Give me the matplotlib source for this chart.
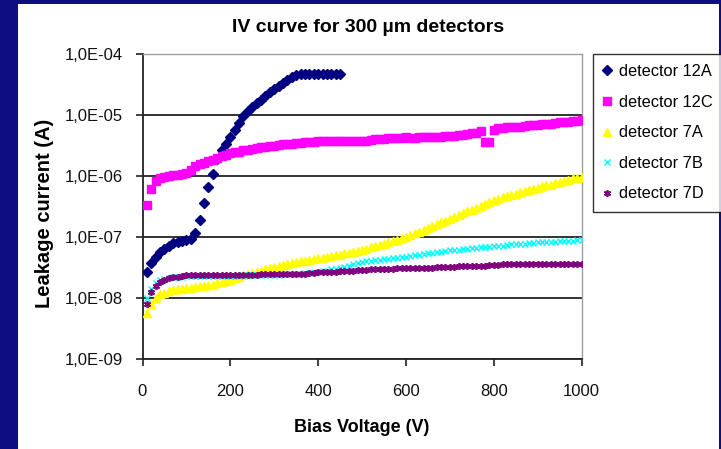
import matplotlib
matplotlib.use("Agg")
import matplotlib.pyplot as plt
from matplotlib.ticker import FixedLocator, FuncFormatter, NullLocator
from matplotlib.patches import Rectangle
import numpy as np

REG = 'Liberation Sans'

# ---------------- data (log10 of current in A) ----------------
V_12A = list(range(10, 460, 10))
log_12A = [-7.58, -7.42, -7.32, -7.25, -7.19, -7.14, -7.10, -7.08, -7.06, -7.05,
           -7.03, -6.94, -6.72, -6.45, -6.18, -5.97, -5.72, -5.58, -5.48, -5.36,
           -5.24, -5.13, -5.02, -4.93, -4.87, -4.81, -4.75, -4.69, -4.63, -4.57,
           -4.52, -4.47, -4.42, -4.38, -4.35, -4.33, -4.33, -4.33, -4.33, -4.33,
           -4.33, -4.33, -4.33, -4.33, -4.33]

V_all = list(range(10, 1010, 10))
log_12C = [-6.48, -6.21, -6.09, -6.04, -6.01, -6.00, -5.99, -5.98, -5.97, -5.95,
           -5.90, -5.84, -5.80, -5.78, -5.76, -5.73, -5.71, -5.68, -5.65, -5.63,
           -5.61, -5.60, -5.58, -5.57, -5.56, -5.54, -5.53, -5.52, -5.51, -5.50,
           -5.49, -5.48, -5.48, -5.47, -5.46, -5.46, -5.45, -5.44, -5.44, -5.43,
           -5.43, -5.42, -5.42, -5.42, -5.43, -5.43, -5.42, -5.42, -5.43, -5.42,
           -5.42, -5.41, -5.40, -5.39, -5.39, -5.38, -5.38, -5.37, -5.37, -5.36,
           -5.37, -5.37, -5.36, -5.36, -5.36, -5.36, -5.36, -5.36, -5.35, -5.34,
           -5.34, -5.33, -5.32, -5.31, -5.30, -5.29, -5.27, -5.44, -5.44, -5.25,
           -5.22, -5.21, -5.20, -5.20, -5.19, -5.19, -5.18, -5.17, -5.16, -5.16,
           -5.15, -5.14, -5.14, -5.13, -5.12, -5.12, -5.11, -5.10, -5.10, -5.09]
log_7A = [-8.25, -8.10, -8.00, -7.94, -7.91, -7.89, -7.87, -7.86, -7.85, -7.84,
          -7.83, -7.82, -7.81, -7.80, -7.79, -7.78, -7.76, -7.74, -7.72, -7.70,
          -7.68, -7.65, -7.63, -7.61, -7.59, -7.57, -7.55, -7.53, -7.51, -7.49,
          -7.47, -7.46, -7.44, -7.43, -7.41, -7.40, -7.39, -7.37, -7.36, -7.35,
          -7.34, -7.33, -7.31, -7.30, -7.29, -7.27, -7.26, -7.24, -7.23, -7.21,
          -7.19, -7.17, -7.15, -7.13, -7.11, -7.09, -7.07, -7.05, -7.02, -7.00,
          -6.97, -6.94, -6.91, -6.88, -6.85, -6.82, -6.79, -6.76, -6.73, -6.70,
          -6.67, -6.64, -6.61, -6.58, -6.55, -6.52, -6.49, -6.46, -6.43, -6.40,
          -6.38, -6.35, -6.33, -6.31, -6.29, -6.27, -6.25, -6.23, -6.21, -6.19,
          -6.17, -6.15, -6.14, -6.12, -6.10, -6.08, -6.06, -6.04, -6.03, -6.01]
log_7B = [-8.00, -7.85, -7.76, -7.71, -7.69, -7.67, -7.66, -7.65, -7.65, -7.64,
          -7.64, -7.64, -7.64, -7.64, -7.64, -7.64, -7.64, -7.64, -7.64, -7.64,
          -7.64, -7.64, -7.63, -7.63, -7.63, -7.63, -7.63, -7.62, -7.62, -7.62,
          -7.62, -7.61, -7.61, -7.61, -7.60, -7.60, -7.59, -7.59, -7.58, -7.57,
          -7.56, -7.55, -7.53, -7.52, -7.51, -7.49, -7.47, -7.45, -7.43, -7.41,
          -7.40, -7.39, -7.38, -7.37, -7.36, -7.36, -7.35, -7.34, -7.33, -7.32,
          -7.31, -7.30, -7.29, -7.28, -7.27, -7.26, -7.25, -7.24, -7.23, -7.22,
          -7.21, -7.21, -7.20, -7.19, -7.18, -7.18, -7.17, -7.16, -7.16, -7.15,
          -7.14, -7.14, -7.13, -7.12, -7.12, -7.11, -7.11, -7.10, -7.10, -7.09,
          -7.09, -7.08, -7.08, -7.08, -7.07, -7.07, -7.06, -7.06, -7.05, -7.05]
log_7D = [-8.10, -7.90, -7.80, -7.74, -7.70, -7.67, -7.66, -7.65, -7.64, -7.63,
          -7.63, -7.62, -7.62, -7.62, -7.62, -7.62, -7.62, -7.62, -7.62, -7.62,
          -7.62, -7.62, -7.62, -7.62, -7.62, -7.62, -7.61, -7.61, -7.61, -7.61,
          -7.61, -7.61, -7.61, -7.60, -7.60, -7.60, -7.60, -7.59, -7.59, -7.58,
          -7.58, -7.57, -7.57, -7.57, -7.56, -7.56, -7.55, -7.55, -7.54, -7.54,
          -7.54, -7.53, -7.53, -7.53, -7.52, -7.52, -7.52, -7.51, -7.51, -7.51,
          -7.51, -7.50, -7.50, -7.50, -7.50, -7.50, -7.49, -7.49, -7.49, -7.49,
          -7.49, -7.48, -7.48, -7.48, -7.48, -7.48, -7.47, -7.47, -7.46, -7.46,
          -7.46, -7.45, -7.45, -7.45, -7.45, -7.45, -7.44, -7.44, -7.44, -7.44,
          -7.44, -7.44, -7.44, -7.44, -7.44, -7.44, -7.44, -7.44, -7.44, -7.44]

labels = ["detector 12A", "detector 12C", "detector 7A", "detector 7B", "detector 7D"]
x_ticks = [0, 200, 400, 600, 800, 1000]
y_exps = [-9, -8, -7, -6, -5, -4]
title = "IV curve for 300 \u00b5m detectors"
xlabel = "Bias Voltage (V)"
ylabel = "Leakage current (A)"

# ---------------- figure ----------------
W, H = 721, 449
fig = plt.figure(figsize=(W / 100, H / 100), dpi=100)
fig.patch.set_facecolor('#0e0e80')
fig.add_artist(Rectangle((18 / W, 0), (719 - 18) / W, 1 - 4 / H,
                         transform=fig.transFigure, facecolor='white',
                         edgecolor='none', zorder=0))

x0, x1 = 142.5, 581.6
y0, y1 = 54, 359
ax = fig.add_axes([x0 / W, 1 - y1 / H, (x1 - x0) / W, (y1 - y0) / H])
ax.set_facecolor('white')
ax.set_yscale('log')
ax.set_xlim(0, 1000)
ax.set_ylim(1e-9, 1e-4)

def cur(vals):
    return [10.0 ** v for v in vals]

series = [
    (V_12A, log_12A, dict(marker='D', color='#000080', ms=5.0, mec='#000080')),
    (V_all, log_12C, dict(marker='s', color='#FF00FF', ms=5.5, mec='#FF00FF')),
    (V_all, log_7A, dict(marker='^', color='#FFFF00', ms=6.2, mec='#FFFF00')),
    (V_all, log_7B, dict(marker='x', color='#00FFFF', ms=4.2, mew=1.0)),
    (V_all, log_7D, dict(marker=(6, 2, 0), color='#800080', ms=5.0, mew=1.2)),
]
handles = []
for i, ((vx, vy, st), lab) in enumerate(zip(series, labels)):
    h, = ax.plot(vx, cur(vy), linestyle='none', label=lab, zorder=3 + i, **st)
    handles.append(h)

ax.yaxis.set_major_locator(FixedLocator([10.0 ** e for e in y_exps]))
ax.yaxis.set_minor_locator(NullLocator())
ax.yaxis.set_major_formatter(FuncFormatter(
    lambda v, p: "1,0E%+03d" % int(round(np.log10(v)))))
ax.xaxis.set_major_locator(FixedLocator(x_ticks))
ax.xaxis.set_minor_locator(NullLocator())

ax.grid(axis='y', color='#222222', linewidth=1.3)
ax.grid(axis='x', visible=False)
ax.set_axisbelow(True)
for s in ['left', 'bottom']:
    ax.spines[s].set_color('#222222')
    ax.spines[s].set_linewidth(1.3)
for s in ['top', 'right']:
    ax.spines[s].set_color('#a0a0a0')
    ax.spines[s].set_linewidth(1.0)

ax.tick_params(axis='both', direction='out', length=5, width=1.2, color='#222222')
ax.tick_params(axis='y', pad=9)
ax.tick_params(axis='x', pad=13)
for t in ax.get_yticklabels() + ax.get_xticklabels():
    t.set_fontfamily(REG)
    t.set_fontsize(12)
    t.set_color('#111111')

fig.text(368 / W, 1 - 27 / H, title, ha='center', va='center',
         fontfamily=REG, fontweight='bold', fontsize=14)
fig.text(362 / W, 1 - 427 / H, xlabel, ha='center', va='center',
         fontfamily=REG, fontweight='bold', fontsize=13)
fig.text(45 / W, 1 - 213 / H, ylabel, ha='center', va='center', rotation=90,
         fontfamily=REG, fontweight='bold', fontsize=14.5)

leg = fig.legend(handles=handles, labels=labels, loc='upper left',
                 bbox_to_anchor=(593 / W, 1 - 54 / H), bbox_transform=fig.transFigure,
                 frameon=True, fancybox=False, shadow=False, borderaxespad=0,
                 prop={'family': REG, 'size': 11.8}, handlelength=0.5,
                 handletextpad=0.45, labelspacing=0.95, borderpad=0.62)
leg.get_frame().set_edgecolor('black')
leg.get_frame().set_linewidth(1.0)

fig.savefig('out.png', dpi=100, facecolor=fig.get_facecolor())
